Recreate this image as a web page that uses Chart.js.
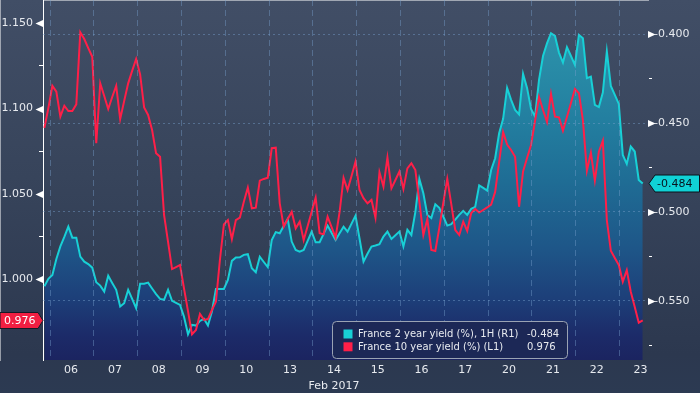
<!DOCTYPE html>
<html><head><meta charset="utf-8">
<script src="https://cdn.jsdelivr.net/npm/chart.js@4/dist/chart.umd.min.js"></script>
<style>html,body{margin:0;padding:0;background:#2c3a52;overflow:hidden}#wrap{width:700px;height:393px}</style>
</head><body><div id="wrap"><canvas id="c" width="700" height="393"></canvas></div>
<script>
// ---- data (hourly, trading hours, 06 Feb – 23 Feb 2017) ----
const dayLabels = ['06','07','08','09','10','13','14','15','16','17','20','21','22','23'];
const monthLabel = 'Feb 2017';
const monthLabelDay = '14';
const leftTickValues = [0.975, 1.000, 1.025, 1.050, 1.075, 1.100, 1.125, 1.150];
const rightTickValues = [-0.575, -0.550, -0.525, -0.500, -0.475, -0.450, -0.425, -0.400];
const seriesNames = ['France 2 year yield (%), 1H (R1)', 'France 10 year yield (%) (L1)'];

const fr2y = [
 -0.5419,-0.5377,-0.5355,-0.5265,-0.5194,-0.5141,-0.5083,-0.5145,-0.5145,-0.5252,-0.5280,
 -0.5294,-0.5314,-0.5396,-0.5415,-0.5449,-0.5359,-0.5400,-0.5439,-0.5533,-0.5514,-0.5439,
 -0.5490,-0.5542,-0.5404,-0.5404,-0.5398,-0.5431,-0.5463,-0.5490,-0.5495,-0.5439,-0.5501,
 -0.5512,-0.5524,-0.5590,-0.5689,-0.5636,-0.5640,-0.5614,-0.5602,-0.5640,-0.5561,-0.5434,
 -0.5434,-0.5434,-0.5383,-0.5276,-0.5257,-0.5256,-0.5242,-0.5238,-0.5317,-0.5340,-0.5252,
 -0.5282,-0.5311,-0.5158,-0.5114,-0.5120,-0.5079,-0.5039,-0.5167,-0.5214,-0.5224,-0.5214,
 -0.5163,-0.5111,-0.5171,-0.5171,-0.5124,-0.5077,-0.5118,-0.5158,-0.5120,-0.5083,-0.5111,
 -0.5066,-0.5021,-0.5150,-0.5280,-0.5236,-0.5195,-0.5189,-0.5182,-0.5139,-0.5111,-0.5152,
 -0.5131,-0.5111,-0.5195,-0.5101,-0.5130,-0.5000,-0.4814,-0.4895,-0.5017,-0.5035,-0.4957,
 -0.4977,-0.5026,-0.5077,-0.5069,-0.5043,-0.5017,-0.4994,-0.5017,-0.4983,-0.4972,-0.4851,
 -0.4865,-0.4880,-0.4764,-0.4698,-0.4557,-0.4476,-0.4302,-0.4369,-0.4426,-0.4451,-0.4223,
 -0.4302,-0.4420,-0.4463,-0.4257,-0.4122,-0.4051,-0.3994,-0.4009,-0.4103,-0.4159,-0.4073,
 -0.4122,-0.4172,-0.4003,-0.4022,-0.4247,-0.4238,-0.4398,-0.4410,-0.4328,-0.4097,-0.4291,
 -0.4341,-0.4392,-0.4679,-0.4730,-0.4632,-0.4660,-0.4820,-0.484
];
const fr10y = [
 1.0887,1.1004,1.1133,1.1099,1.0953,1.1017,1.0986,1.0986,1.1025,1.1447,1.1408,
 1.1355,1.1304,1.0797,1.1148,1.1074,1.0998,1.1068,1.1134,1.0939,1.1045,1.1148,
 1.1221,1.1291,1.1201,1.1007,1.0963,1.0875,1.0738,1.0718,1.0377,1.0219,1.0060,
 1.0072,1.0084,0.9947,0.9814,0.9678,0.9703,0.9797,0.9762,0.9767,0.9820,0.9869,
 1.0113,1.0322,1.0347,1.0236,1.0347,1.0361,1.0455,1.0537,1.0416,1.0420,1.0578,
 1.0588,1.0595,1.0768,1.0771,1.0445,1.0308,1.0353,1.0396,1.0299,1.0338,1.0230,
 1.0312,1.0396,1.0478,1.0270,1.0264,1.0367,1.0306,1.0244,1.0394,1.0594,1.0523,
 1.0605,1.0689,1.0523,1.0475,1.0445,1.0465,1.0361,1.0627,1.0543,1.0713,1.0533,
 1.0582,1.0631,1.0529,1.0650,1.0680,1.0640,1.0455,1.0260,1.0353,1.0172,1.0166,
 1.0301,1.0447,1.0588,1.0441,1.0289,1.0260,1.0338,1.0283,1.0388,1.0412,1.0391,
 1.0406,1.0421,1.0438,1.0512,1.0687,1.0863,1.0790,1.0758,1.0718,1.0425,1.0632,
 1.0711,1.0787,1.0928,1.1068,1.0992,1.0922,1.1086,1.0953,1.0949,1.0871,1.0951,
 1.1033,1.1115,1.1090,1.0933,1.0636,1.0742,1.0578,1.0748,1.0812,1.0347,1.0168,
 1.0125,1.0084,0.9986,1.0054,0.9927,0.9838,0.9746,0.976
];
const hours = fr2y.map((_, i) => i);

// ---- layout / style ----
const HOURS_PER_DAY = 10.98;
const FIRST_DAY_START = 1.43;
const dayTicks = dayLabels.map((_, k) => FIRST_DAY_START + k * HOURS_PER_DAY);
const FONT = '"DejaVu Sans", "Liberation Sans", sans-serif';
const TXT = '#e7eaef';
const CYAN = '#18d0d6';
const RED = '#ff1f48';
const isMajor = v => Math.abs(v / 0.05 - Math.round(v / 0.05)) < 1e-6;

Chart.defaults.font.family = FONT;

const bgPlugin = {
  id: 'bg',
  beforeDraw(chart) {
    const {ctx, width, height} = chart;
    const g = ctx.createLinearGradient(0, 0, 0, height);
    g.addColorStop(0, '#414e66');
    g.addColorStop(0.45, '#37445b');
    g.addColorStop(0.9, '#2c384f');
    g.addColorStop(1, '#2c3a52');
    ctx.save(); ctx.fillStyle = g; ctx.fillRect(0, 0, width, height); ctx.restore();
  }
};

function roundRect(ctx, x, y, w, h, r) {
  ctx.beginPath();
  ctx.moveTo(x + r, y); ctx.lineTo(x + w - r, y); ctx.quadraticCurveTo(x + w, y, x + w, y + r);
  ctx.lineTo(x + w, y + h - r); ctx.quadraticCurveTo(x + w, y + h, x + w - r, y + h);
  ctx.lineTo(x + r, y + h); ctx.quadraticCurveTo(x, y + h, x, y + h - r);
  ctx.lineTo(x, y + r); ctx.quadraticCurveTo(x, y, x + r, y); ctx.closePath();
}

const overlayPlugin = {
  id: 'overlay',
  afterDraw(chart) {
    const {ctx, chartArea: ca, scales} = chart;
    const yL = scales.yL, yR = scales.yR;
    ctx.save();
    // major tick arrows
    ctx.fillStyle = '#ffffff';
    yL.ticks.forEach(t => {
      if (!isMajor(t.value)) return;
      const y = Math.round(yL.getPixelForValue(t.value)) + 0.5;
      ctx.beginPath(); ctx.moveTo(ca.left, y - 3.5); ctx.lineTo(ca.left, y + 3.5); ctx.lineTo(ca.left - 7.5, y); ctx.closePath(); ctx.fill();
    });
    yR.ticks.forEach(t => {
      if (!isMajor(t.value)) return;
      const y = Math.round(yR.getPixelForValue(t.value)) + 0.5;
      ctx.beginPath(); ctx.moveTo(ca.right, y - 3.5); ctx.lineTo(ca.right, y + 3.5); ctx.lineTo(ca.right + 7.5, y); ctx.closePath(); ctx.fill();
    });
    ctx.font = '11px ' + FONT;
    ctx.textBaseline = 'middle';
    // last value tag, left (10y)
    const vL = fr10y[fr10y.length - 1];
    let y = Math.round(yL.getPixelForValue(vL)) + 0.5;
    ctx.beginPath();
    ctx.moveTo(0, y - 8); ctx.lineTo(ca.left - 5, y - 8); ctx.lineTo(ca.left, y); ctx.lineTo(ca.left - 5, y + 8); ctx.lineTo(0, y + 8); ctx.closePath();
    ctx.fillStyle = '#f21f42'; ctx.fill(); ctx.strokeStyle = '#151b27'; ctx.lineWidth = 1; ctx.stroke();
    ctx.fillStyle = '#ffffff'; ctx.textAlign = 'left'; ctx.fillText(vL.toFixed(3), 4, y + 0.5);
    // last value tag, right (2y)
    const vR = fr2y[fr2y.length - 1];
    y = Math.round(yR.getPixelForValue(vR)) + 0.5;
    ctx.beginPath();
    ctx.moveTo(ca.right + 1, y); ctx.lineTo(ca.right + 7, y - 8.5); ctx.lineTo(699.5, y - 8.5); ctx.lineTo(699.5, y + 8.5); ctx.lineTo(ca.right + 7, y + 8.5); ctx.closePath();
    ctx.fillStyle = '#10d2d6'; ctx.fill(); ctx.strokeStyle = '#0b121c'; ctx.stroke();
    ctx.fillStyle = '#07131f'; ctx.fillText(vR.toFixed(3), ca.right + 9, y + 0.5);
    // legend box
    const bx = 332.5, by = 321.5, bw = 235, bh = 37;
    roundRect(ctx, bx, by, bw, bh, 4);
    ctx.fillStyle = '#1c2856'; ctx.fill();
    ctx.strokeStyle = '#9aa3b3'; ctx.lineWidth = 1; ctx.stroke();
    ctx.font = '10px ' + FONT;
    const rows = [
      {name: seriesNames[0], color: CYAN, val: vR},
      {name: seriesNames[1], color: RED, val: vL}
    ];
    rows.forEach((r, i) => {
      const cy = by + 12.5 + i * 12.8;
      ctx.fillStyle = r.color; ctx.fillRect(bx + 11, cy - 4.5, 9, 9);
      ctx.fillStyle = TXT; ctx.textAlign = 'left';
      ctx.fillText(r.name, bx + 25.5, cy + 0.5);
      ctx.fillText(r.val.toFixed(3), bx + 194.5, cy + 0.5);
    });
    ctx.restore();
  }
};

const fillGradient = (context) => {
  const ca = context.chart.chartArea;
  if (!ca) return 'rgba(30,90,140,0.8)';
  const g = context.chart.ctx.createLinearGradient(0, ca.top, 0, ca.bottom);
  g.addColorStop(0, '#2d98af');
  g.addColorStop(0.15, '#2a8ea8');
  g.addColorStop(0.33, '#237fa0');
  g.addColorStop(0.5, '#1f6d95');
  g.addColorStop(0.69, '#1e5688');
  g.addColorStop(0.83, '#1d3f79');
  g.addColorStop(0.93, '#1c2b69');
  g.addColorStop(1, '#1b2460');
  return g;
};

new Chart(document.getElementById('c'), {
  type: 'line',
  data: {
    labels: hours,
    datasets: [
      { label: seriesNames[1], data: fr10y, yAxisID: 'yL', borderColor: RED, borderWidth: 2,
        pointRadius: 0, fill: false, tension: 0 },
      { label: seriesNames[0], data: fr2y, yAxisID: 'yR', borderColor: CYAN, borderWidth: 2,
        pointRadius: 0, fill: 'start', backgroundColor: fillGradient, tension: 0 }
    ]
  },
  options: {
    responsive: false, animation: false, devicePixelRatio: 1,
    layout: { padding: 0 },
    plugins: { legend: { display: false }, tooltip: { enabled: false } },
    scales: {
      x: {
        type: 'linear', position: 'bottom', bounds: 'data', min: -0.35, max: 151.32,
        afterBuildTicks: s => { s.ticks = dayTicks.map(v => ({ value: v })); },
        afterFit: s => { s.height = 33; s.paddingLeft = 0; s.paddingRight = 0; },
        grid: { display: true, drawOnChartArea: true, drawTicks: false, color: 'rgba(120,160,205,0.42)', lineWidth: 1, z: 1 },
        border: { display: true, color: '#ffffff', width: 1, dash: [6, 4] },
        ticks: {
          autoSkip: false, maxRotation: 0, minRotation: 0, padding: 2, labelOffset: 21,
          color: TXT, font: { size: 11, lineHeight: 1.45 },
          callback: (v, i) => dayLabels[i] === monthLabelDay ? [dayLabels[i], monthLabel] : dayLabels[i]
        }
      },
      yL: {
        type: 'linear', position: 'left', bounds: 'data', min: 0.95272, max: 1.16365,
        afterBuildTicks: s => { s.ticks = leftTickValues.map(v => ({ value: v })); },
        afterFit: s => { s.width = 43; s.paddingTop = 0; s.paddingBottom = 0; },
        grid: { drawOnChartArea: false, drawTicks: true, tickLength: 4, tickColor: '#ffffff', color: '#ffffff' },
        border: { display: true, color: '#ffffff', width: 1 },
        ticks: { padding: 6, color: TXT, font: { size: 11 }, callback: v => isMajor(v) ? v.toFixed(3) : '' }
      },
      yR: {
        type: 'linear', position: 'right', bounds: 'data', min: -0.58339, max: -0.38069,
        afterBuildTicks: s => { s.ticks = rightTickValues.map(v => ({ value: v })); },
        afterFit: s => { s.width = 52; s.paddingTop = 0; s.paddingBottom = 0; },
        grid: { drawOnChartArea: true, drawTicks: true, tickLength: 4, tickColor: '#ffffff', z: 1,
                color: c => (c.tick && isMajor(c.tick.value)) ? 'rgba(120,160,205,0.45)' : 'rgba(0,0,0,0)' },
        border: { display: true, color: '#ffffff', width: 1, dash: [2, 3] },
        ticks: { padding: 2, color: TXT, font: { size: 11 }, callback: v => isMajor(v) ? v.toFixed(3) : '' }
      }
    }
  },
  plugins: [bgPlugin, overlayPlugin]
});
</script>
</body></html>
